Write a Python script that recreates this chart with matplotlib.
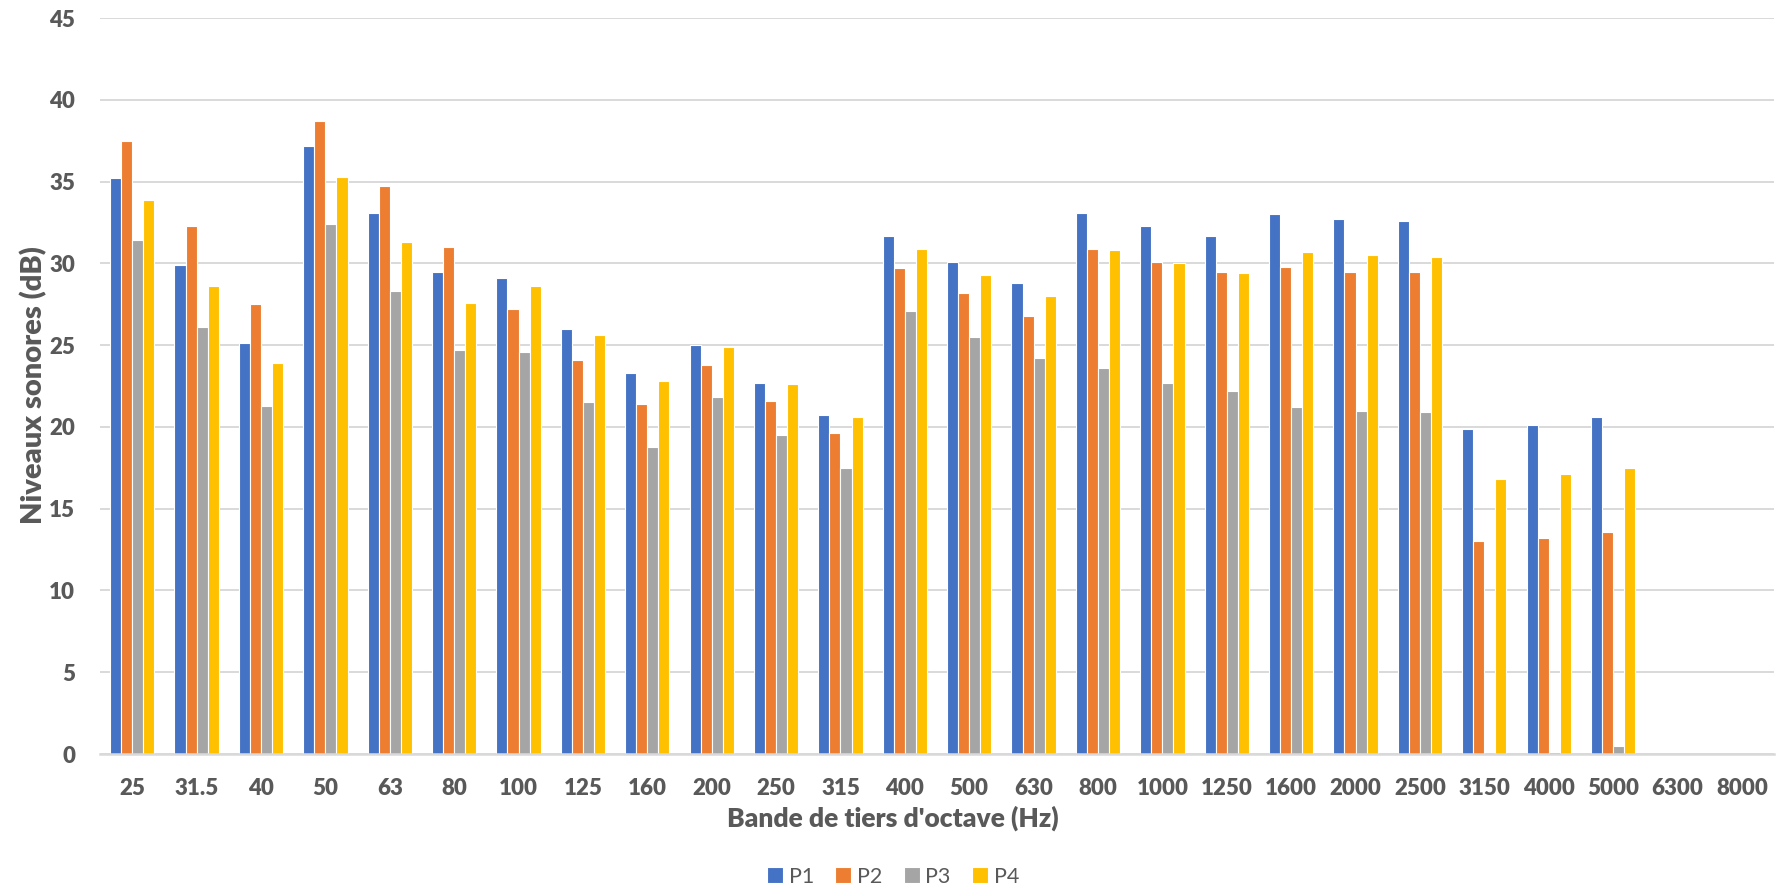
import matplotlib
matplotlib.use("Agg")
import matplotlib.pyplot as plt
import numpy as np

# Third-octave band centre frequencies (Hz)
bands = ["25", "31.5", "40", "50", "63", "80", "100", "125", "160", "200",
         "250", "315", "400", "500", "630", "800", "1000", "1250", "1600",
         "2000", "2500", "3150", "4000", "5000", "6300", "8000"]

# Sound levels (dB) per measurement point
p1 = [35.2, 29.9, 25.1, 37.2, 33.1, 29.5, 29.1, 26.0, 23.3, 25.0,
      22.7, 20.7, 31.7, 30.1, 28.8, 33.1, 32.3, 31.7, 33.0,
      32.7, 32.6, 19.9, 20.1, 20.6, 0.0, 0.0]
p2 = [37.5, 32.3, 27.5, 38.7, 34.7, 31.0, 27.2, 24.1, 21.4, 23.8,
      21.6, 19.6, 29.7, 28.2, 26.8, 30.9, 30.1, 29.5, 29.8,
      29.5, 29.5, 13.0, 13.2, 13.6, 0.0, 0.0]
p3 = [31.4, 26.1, 21.3, 32.4, 28.3, 24.7, 24.6, 21.5, 18.8, 21.8,
      19.5, 17.5, 27.1, 25.5, 24.2, 23.6, 22.7, 22.2, 21.2,
      21.0, 20.9, 0.0, 0.1, 0.5, 0.0, 0.0]
p4 = [33.9, 28.6, 23.9, 35.3, 31.3, 27.6, 28.6, 25.6, 22.8, 24.9,
      22.6, 20.6, 30.9, 29.3, 28.0, 30.8, 30.0, 29.4, 30.7,
      30.5, 30.4, 16.8, 17.1, 17.5, 0.0, 0.0]

series_names = ["P1", "P2", "P3", "P4"]
series_values = [p1, p2, p3, p4]
colors = ["#4472C4", "#ED7D31", "#A5A5A5", "#FFC000"]

plt.rcParams["font.family"] = ["Lato", "DejaVu Sans"]
text_grey = "#595959"

fig = plt.figure(figsize=(17.86, 8.92), dpi=100)
ax = fig.add_axes([0.056, 0.1547, 0.9373, 0.8251])

x = np.arange(len(bands))
bar_w = 0.172
offsets = (np.arange(4) - 1.5) * bar_w
for name, vals, col, off in zip(series_names, series_values, colors, offsets):
    ax.bar(x + off, vals, width=bar_w, color=col, edgecolor="white",
           linewidth=0.8, label=name, zorder=3)

ax.set_xlim(-0.5, len(bands) - 0.5)
ax.set_ylim(0, 45)
ax.set_yticks(np.arange(0, 46, 5))
ax.set_xticks(x)
ax.set_xticklabels(bands)

ax.grid(axis="y", color="#D9D9D9", linewidth=1.4, zorder=0)
ax.set_axisbelow(True)
for side in ["top", "right", "left"]:
    ax.spines[side].set_visible(False)
ax.spines["bottom"].set_color("#D9D9D9")
ax.spines["bottom"].set_linewidth(1.8)
ax.spines["bottom"].set_zorder(4)

ax.tick_params(axis="both", length=0, colors=text_grey, labelsize=16)
ax.tick_params(axis="y", pad=18)
ax.tick_params(axis="x", pad=17)
for lab in ax.get_xticklabels() + ax.get_yticklabels():
    lab.set_fontweight("heavy")

fig.text(0.019, 0.5688, "Niveaux sonores (dB)", rotation=90, ha="center",
         va="center", fontsize=21, fontweight="heavy", color=text_grey)
fig.text(0.5, 0.083, "Bande de tiers d'octave (Hz)", ha="center",
         va="center", fontsize=19, fontweight="heavy", color=text_grey)

leg = fig.legend(loc="center", bbox_to_anchor=(0.5, 0.017), ncol=4,
                 frameon=False, fontsize=15.5, handlelength=0.75,
                 handleheight=0.75, handletextpad=0.25, columnspacing=1.0)
for t in leg.get_texts():
    t.set_color(text_grey)

fig.savefig("out.png", dpi=100, facecolor="white")
